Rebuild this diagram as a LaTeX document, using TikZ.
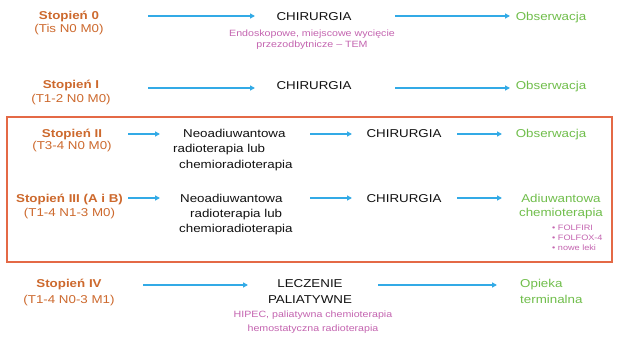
\documentclass[tikz,border=0pt]{standalone}
\usepackage{fontspec}
\setmainfont{Liberation Sans}[FakeStretch=1.17]
\usetikzlibrary{arrows.meta}
\definecolor{cStage}{RGB}{205,105,45}
\definecolor{cBox}{RGB}{228,105,70}
\definecolor{cGreen}{RGB}{112,190,75}
\definecolor{cPink}{RGB}{196,100,176}
\definecolor{cBlue}{RGB}{50,170,230}
\definecolor{cBlack}{RGB}{17,17,17}
\begin{document}
\begin{tikzpicture}[x=1pt,y=-1pt,
  every node/.style={inner sep=0pt, anchor=base},
  main/.style={font=\fontsize{11.4}{#1}\selectfont, align=center, text=cBlack},
  main/.default=14,
  stg/.style={main=#1, text=cStage},
  stg/.default=14,
  res/.style={main=#1, text=cGreen},
  res/.default=14,
  note/.style={font=\fontsize{9.1}{#1}\selectfont, align=center, text=cPink},
  note/.default=11,
  bul/.style={font=\fontsize{7.8}{10}\selectfont, align=left, text=cPink, anchor=base west},
  arr/.style={draw=cBlue, line width=1.3pt, -{Triangle[length=5pt,width=5pt]}},
  frame/.style={draw=cBox, line width=1.5pt}
]
\useasboundingbox[fill=white] (0,0) rectangle (618,339);

% Row 0 (multi-line nodes: base = baseline of the last line)
\node[stg=12.5] (s0) at (69,32.5) {\textbf{Stopień 0}\\(Tis N0 M0)};
\node[main] (c0) at (314,21) {CHIRURGIA};
\node[note=10.5] (p0) at (312,47.1) {Endoskopowe, miejscowe wycięcie\\przezodbytnicze – TEM};
\node[res] (o0) at (551,20.5) {Obserwacja};
\coordinate (a0) at (148,16); \coordinate (b0) at (255,16);
\coordinate (d0) at (395,16); \coordinate (e0) at (510,16);
\draw[arr] (a0) -- (b0);
\draw[arr] (d0) -- (e0);

% Row I
\node[stg=14] (s1) at (71,103) {\textbf{Stopień I}\\(T1-2 N0 M0)};
\node[main] (c1) at (314,89.5) {CHIRURGIA};
\node[res] (o1) at (551,89.5) {Obserwacja};
\coordinate (a1) at (148,88); \coordinate (b1) at (255,88);
\coordinate (d1) at (395,88); \coordinate (e1) at (510,88);
\draw[arr] (a1) -- (b1);
\draw[arr] (d1) -- (e1);

% Frame
\draw[frame] (7,117) rectangle (612,262);

% Row II
\node[stg=13] (s2) at (72,150) {\textbf{Stopień II}\\(T3-4 N0 M0)};
\node[main=16, align=left, anchor=base west] (n2) at (173,169) {\hspace*{10pt}Neoadiuwantowa\\radioterapia lub\\\hspace*{6pt}chemioradioterapia};
\node[main] (c2) at (404,138) {CHIRURGIA};
\node[res] (o2) at (551,138) {Obserwacja};
\coordinate (a2) at (128,134); \coordinate (b2) at (160,134);
\coordinate (d2) at (310,134); \coordinate (e2) at (352,134);
\coordinate (f2) at (457,134); \coordinate (g2) at (502,134);
\draw[arr] (a2) -- (b2);
\draw[arr] (d2) -- (e2);
\draw[arr] (f2) -- (g2);

% Row III
\node[stg=14] (s3) at (69.5,216) {\textbf{Stopień III (A i B)}\\(T1-4 N1-3 M0)};
\node[main=15, align=left, anchor=base west] (n3) at (179,232) {\hspace*{1pt}Neoadiuwantowa\\\hspace*{11pt}radioterapia lub\\chemioradioterapia};
\node[main] (c3) at (404,202) {CHIRURGIA};
\node[res] (o3) at (561,216) {Adiuwantowa\\chemioterapia};
\node[bul] (b3) at (552,250) {\textbullet{} FOLFIRI\\\textbullet{} FOLFOX-4\\\textbullet{} nowe leki};
\coordinate (a3) at (128,198); \coordinate (b3a) at (160,198);
\coordinate (d3) at (310,198); \coordinate (e3) at (352,198);
\coordinate (f3) at (457,198); \coordinate (g3) at (502,198);
\draw[arr] (a3) -- (b3a);
\draw[arr] (d3) -- (e3);
\draw[arr] (f3) -- (g3);

% Row IV
\node[stg=16] (s4) at (69,303) {\textbf{Stopień IV}\\(T1-4 N0-3 M1)};
\node[main=16] (l4) at (310,303) {LECZENIE\\PALIATYWNE};
\node[note=14] (p4) at (313,331.5) {HIPEC, paliatywna chemioterapia\\hemostatyczna radioterapia};
\node[res=16, align=left, anchor=base west] (o4) at (520,303) {Opieka\\terminalna};
\coordinate (a4) at (143,285); \coordinate (b4) at (248,285);
\coordinate (d4) at (378,285); \coordinate (e4) at (497,285);
\draw[arr] (a4) -- (b4);
\draw[arr] (d4) -- (e4);
\end{tikzpicture}
\end{document}
